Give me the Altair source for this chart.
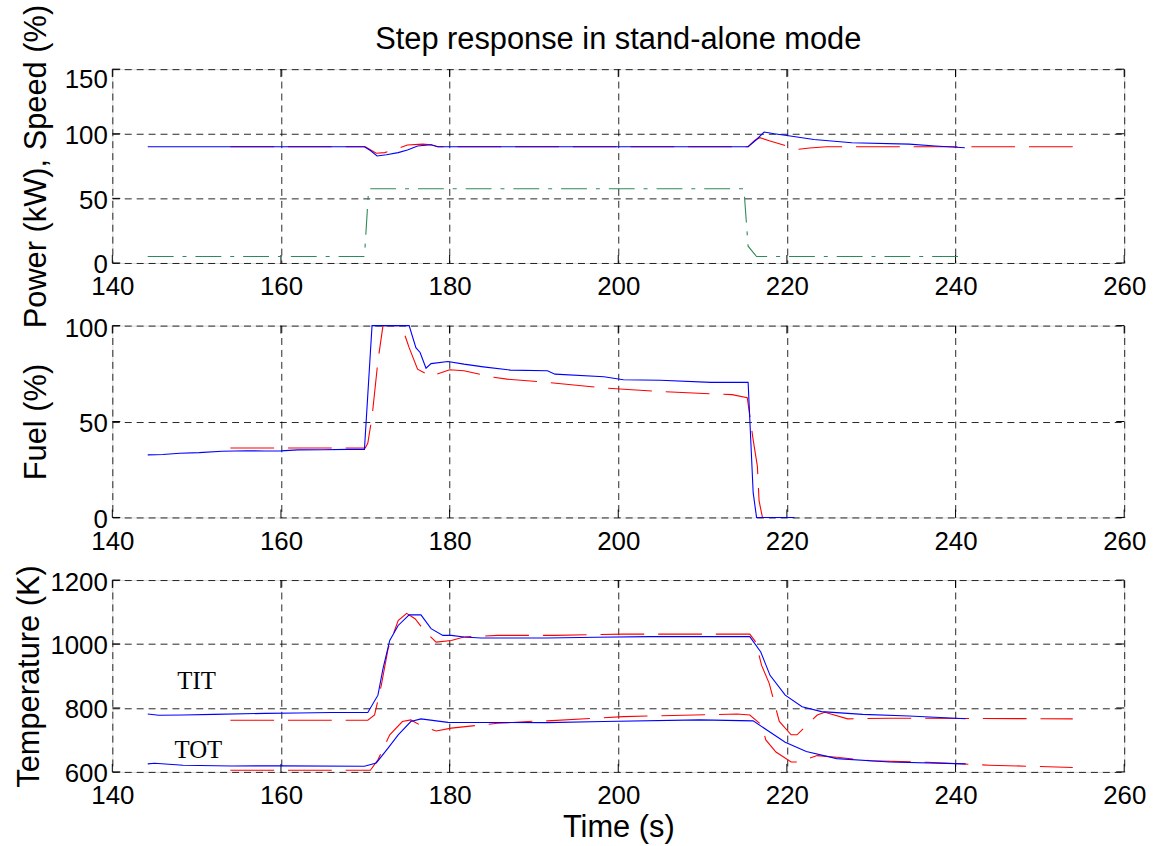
import altair as alt
import pandas as pd

# ---------------- data ----------------
# Panel 1: Power (kW), Speed (%)
speed_blue_t = [144.2, 169.9, 170.6, 171.4, 172.5, 173.9, 175.0, 176.2, 177.8, 178.6, 215.4, 216.3, 217.3, 218.5, 220.0, 223.2, 227.7, 234.5, 237.6, 241.1]
speed_blue_v = [90, 90, 87, 82.8, 83.8, 85.4, 87.5, 90.5, 91.5, 90, 90, 95, 101.3, 100, 98.7, 95.6, 93, 92, 90.5, 89.2]
speed_red_t = [154.0, 170.0, 171.3, 172.3, 173.3, 175.0, 176.8, 177.8, 178.6, 215.4, 216.2, 216.8, 217.9, 219.6, 221.4, 222.7, 224.7, 253.9]
speed_red_v = [90, 90, 84.9, 85.4, 87.4, 91.3, 92, 91.5, 90, 90, 95, 97, 94.6, 91.3, 88, 89, 90, 90]
power_green_t = [144.2, 169.9, 170.4, 214.9, 215.4, 216.4, 240.8]
power_green_v = [5, 5, 57.5, 57.5, 13, 5, 5]

# Panel 2: Fuel (%)
fuel_blue_t = [144.2, 146.0, 148.0, 150.3, 153.0, 156.0, 158.0, 160.0, 162.0, 165.0, 168.0, 169.9, 170.8, 175.2, 176.0, 176.5, 177.2, 177.8, 179.8, 181.7, 184.0, 187.2, 191.6, 192.5, 198.3, 200.6, 205.0, 211.0, 215.4, 216.0, 216.4, 220.9]
fuel_blue_v = [32.6, 32.8, 33.5, 33.8, 34.5, 34.8, 34.6, 34.7, 35.2, 35.3, 35.5, 35.5, 100, 100, 88.5, 86, 77.8, 80.2, 81.3, 79.9, 78.5, 76.8, 76.5, 74.7, 73.3, 71.8, 71.5, 70.4, 70.4, 12.9, 0, 0]
fuel_red_t = [154.0, 170.0, 170.3, 170.8, 171.5, 172.1, 174.3, 175.2, 176.2, 177.8, 178.2, 180.0, 181.7, 184.9, 186.8, 191.6, 198.3, 205.1, 213.5, 215.3, 216.0, 216.5, 216.7, 217.1, 220.0]
fuel_red_v = [36.2, 36.2, 38.8, 52.4, 81.6, 100, 100, 88.5, 77.3, 73.5, 74.2, 77, 76.5, 73.3, 72.1, 70.4, 67.5, 65.6, 64, 62.4, 40.4, 26.6, 8.6, 0, 0]

# Panel 3: Temperature (K)
tit_blue_t = [144.2, 145.5, 148.4, 152.0, 158.1, 162.0, 166.0, 170.3, 171.5, 172.1, 172.9, 173.9, 175.2, 176.6, 177.8, 179.2, 180.2, 181.7, 183.7, 191.6, 197.4, 203.8, 215.6, 216.9, 218.0, 219.8, 221.8, 224.1, 229.0, 234.5, 241.2]
tit_blue_v = [781, 777, 778, 780, 783, 784, 785.6, 785.6, 840, 923, 1011, 1058, 1091, 1091, 1048, 1027, 1027, 1022, 1019, 1019, 1021, 1023, 1023, 975, 902, 840, 804, 788.6, 780, 775, 766]
tit_red_t = [154.0, 170.3, 171.1, 171.9, 172.7, 173.9, 174.9, 175.9, 177.1, 178.4, 180.2, 181.7, 185.7, 190.6, 192.5, 200.6, 215.6, 216.3, 217.0, 217.9, 219.1, 220.5, 221.2, 223.6, 224.5, 227.2, 232.2, 253.9]
tit_red_v = [761.6, 761.6, 778, 871, 985, 1073, 1096, 1079, 1039, 1006, 1011, 1022, 1027, 1027, 1027, 1031, 1031, 1006, 933, 877, 758, 716, 716, 778, 786.5, 766, 768, 766]
tot_blue_t = [144.2, 145.0, 148.4, 154.2, 160.0, 169.9, 171.3, 172.7, 173.9, 175.4, 176.6, 179.8, 191.6, 198.3, 209.7, 216.0, 218.2, 219.8, 222.3, 225.9, 232.2, 241.2]
tot_blue_v = [625, 627, 621, 618.6, 619, 617.6, 628, 674.6, 716, 757.6, 765.7, 755, 754, 757.6, 762.6, 759.6, 721, 693, 664, 641.5, 631, 625]
tot_red_t = [154.0, 170.6, 171.5, 172.9, 174.4, 175.4, 176.6, 178.4, 180.2, 185.7, 190.6, 191.6, 200.6, 214.1, 215.6, 217.0, 217.5, 218.7, 220.5, 221.3, 223.6, 225.9, 229.9, 236.7, 244.0, 253.9]
tot_red_v = [605, 605, 638, 716, 757.6, 762.6, 745, 728, 737, 752, 759.6, 759.6, 773, 781, 778, 747, 700, 662, 631, 631, 651, 645.6, 635, 630, 621, 614]

label_text = ["TIT", "TOT"]
label_t = [150.0, 150.2]
label_v = [884, 668]

chart_title = "Step response in stand-alone mode"
x_ticks = [140, 160, 180, 200, 220, 240, 260]
y1_ticks = [0, 50, 100, 150]
y2_ticks = [0, 50, 100]
y3_ticks = [600, 800, 1000, 1200]

# ---------------- styling ----------------
W = 1018
FONT = "Liberation Sans"
BLUE = "#0000ff"
RED = "#ff0000"
GREEN = "#2e8b57"
RED_DASH = [44, 14]
GREEN_DASH = [26, 9, 4, 9]
TICK = 8
TITLE_SIZE = 31
LABEL_SIZE = 26

x_scale = alt.Scale(domain=[140, 260], nice=False, zero=False)


def series(t, v, color, dash=None):
    df = pd.DataFrame({"t": t, "v": v})
    kw = dict(color=color, strokeWidth=1.1, clip=False)
    if dash:
        kw["strokeDash"] = dash
    return df, kw


def panel(lines, y_domain, y_ticks, y_title, H, x_title=None, top_offset=3, title_pad=10):
    y_scale = alt.Scale(domain=y_domain, nice=False, zero=False)
    common = dict(grid=True, gridDash=[7, 5], gridColor="black", gridOpacity=0.85,
                  domain=False, ticks=False, labelFont=FONT, labelFontSize=LABEL_SIZE,
                  labelColor="black", titleFont=FONT, titleFontSize=TITLE_SIZE,
                  titleFontWeight="normal", titleColor="black", labelFlush=False, format="d")
    x_axis = alt.Axis(values=x_ticks, labelPadding=11, title=x_title, titlePadding=4, **common)
    y_axis = alt.Axis(values=y_ticks, labelPadding=5, title=y_title, titlePadding=title_pad,
                      labelOffset={"condition": {"test": f"datum.value == {y_domain[1]}", "value": top_offset},
                                   "value": 2},
                      **common)

    # axes/grid carrier layer
    base_df = pd.DataFrame({"t": [x_ticks[0]], "v": [y_domain[0]]})
    base = alt.Chart(base_df).mark_point(opacity=0).encode(
        x=alt.X("t:Q", scale=x_scale, axis=x_axis),
        y=alt.Y("v:Q", scale=y_scale, axis=y_axis),
    )
    layers = [base]

    # inward ticks on all four sides
    xt = pd.DataFrame({"t": x_ticks})
    yt = pd.DataFrame({"v": y_ticks})
    layers.append(alt.Chart(xt).mark_rule(color="black", strokeWidth=1).encode(
        x=alt.X("t:Q", scale=x_scale), y=alt.value(H), y2=alt.value(H - TICK)))
    layers.append(alt.Chart(xt).mark_rule(color="black", strokeWidth=1).encode(
        x=alt.X("t:Q", scale=x_scale), y=alt.value(0), y2=alt.value(TICK)))
    layers.append(alt.Chart(yt).mark_rule(color="black", strokeWidth=1).encode(
        y=alt.Y("v:Q", scale=y_scale), x=alt.value(0), x2=alt.value(TICK)))
    layers.append(alt.Chart(yt).mark_rule(color="black", strokeWidth=1).encode(
        y=alt.Y("v:Q", scale=y_scale), x=alt.value(W - TICK), x2=alt.value(W)))

    for df, kw in lines:
        layers.append(alt.Chart(df).mark_line(**kw).encode(
            x=alt.X("t:Q", scale=x_scale),
            y=alt.Y("v:Q", scale=y_scale),
            order=alt.Order("t:Q"),
        ))
    return layers, y_scale


# Panel 1
l1, _ = panel([
    series(power_green_t, power_green_v, GREEN, GREEN_DASH),
    series(speed_red_t, speed_red_v, RED, RED_DASH),
    series(speed_blue_t, speed_blue_v, BLUE),
], [0, 150], y1_ticks, "Power (kW), Speed (%)", 195, top_offset=10, title_pad=12)
title_mark = alt.Chart(pd.DataFrame({"txt": [chart_title]})).mark_text(
    font=FONT, fontSize=TITLE_SIZE, color="black", align="center", baseline="alphabetic"
).encode(x=alt.value(W / 2), y=alt.value(-20), text="txt:N")
p1 = alt.layer(*l1, title_mark).properties(width=W, height=195)

# Panel 2
l2, _ = panel([
    series(fuel_red_t, fuel_red_v, RED, RED_DASH),
    series(fuel_blue_t, fuel_blue_v, BLUE),
], [0, 100], y2_ticks, "Fuel (%)", 193, title_pad=12)
p2 = alt.layer(*l2).properties(width=W, height=193)

# Panel 3
l3, ys3 = panel([
    series(tit_red_t, tit_red_v, RED, RED_DASH),
    series(tot_red_t, tot_red_v, RED, RED_DASH),
    series(tit_blue_t, tit_blue_v, BLUE),
    series(tot_blue_t, tot_blue_v, BLUE),
], [600, 1200], y3_ticks, "Temperature (K)", 193, x_title="Time (s)", title_pad=4)
lab_df = pd.DataFrame({"t": label_t, "v": label_v, "txt": label_text})
labels = alt.Chart(lab_df).mark_text(font="Liberation Serif", fontSize=25, color="black",
                                     align="center", baseline="middle").encode(
    x=alt.X("t:Q", scale=x_scale), y=alt.Y("v:Q", scale=ys3), text="txt:N")
p3 = alt.layer(*l3, labels).properties(width=W, height=193)

chart = alt.vconcat(p1, p2, p3, spacing=63, bounds="flush").properties(
    padding={"left": 13, "top": 1, "right": 10, "bottom": 5},
).configure_view(stroke="black", strokeWidth=1.2).configure(background="white")

chart.save("out.html", embed_options={"renderer": "svg", "actions": False})
